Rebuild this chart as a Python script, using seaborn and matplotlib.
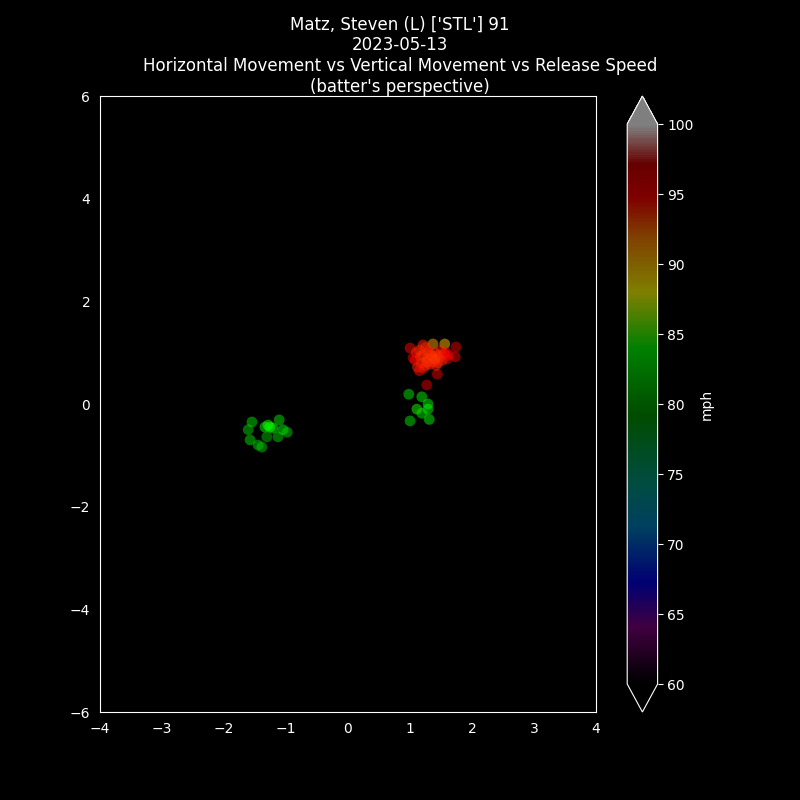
import numpy as np
import pandas as pd
import seaborn as sns
import matplotlib.pyplot as plt
from matplotlib.colors import LinearSegmentedColormap, Normalize
from matplotlib.cm import ScalarMappable

sns.set_style("dark")
plt.style.use("dark_background")

hmov = [1.00,1.21,1.37,1.56,1.74,1.73,1.27,1.44,1.27,1.10,1.15,1.20,1.25,1.30,1.35,1.40,1.45,1.50,1.55,1.60,
        1.08,1.18,1.28,1.38,1.48,1.58,1.12,1.22,1.32,1.42,1.52,1.05,1.15,1.35,1.45,1.62,1.25,1.40,1.17,1.30,
        0.98,1.19,1.29,1.11,1.29,1.19,1.00,1.31,
        -1.55,-1.61,-1.29,-1.11,-1.05,-0.98,-1.58,-1.45,-1.39,-1.31,-1.13,-1.26,-1.34,-1.21]
vmov = [1.09,1.15,1.17,1.17,1.11,0.92,0.82,0.58,0.37,1.00,1.05,0.95,1.10,1.02,0.90,1.00,0.95,1.05,0.98,0.88,
        0.85,0.80,0.88,0.82,0.92,1.00,0.72,0.70,0.78,0.75,0.85,0.90,0.65,0.95,0.80,0.95,0.75,0.88,0.92,0.98,
        0.19,0.14,0.00,-0.10,-0.10,-0.18,-0.33,-0.30,
        -0.35,-0.50,-0.41,-0.31,-0.50,-0.55,-0.70,-0.80,-0.84,-0.64,-0.64,-0.45,-0.45,-0.47]
speed = [94.5,94,91,90,95.5,95,92,95.5,96,94,94,93.5,94,94,93.5,94,94,94,93.5,95,
         95,94,93.5,94,94,95,94,94.5,94,94,94,95,94.5,93.5,94,95,94,93.5,94,94,
         83,83.5,84,84.5,84,83,83,84,
         82.5,82,84.5,83,83.5,82,82.5,82,81.5,81,82,84.5,84,84]
df = pd.DataFrame({"h": hmov, "v": vmov, "mph": speed})

nodes = [(0.0,(0,0,0)),(0.10,(0.5,0,0.5)),(0.18,(0,0,0.9)),(0.28,(0,0.5,0.75)),(0.36,(0,0.6,0.5)),
         (0.48,(0,0.6,0)),(0.60,(0,1,0)),(0.70,(1,1,0)),(0.80,(1,0.5,0)),(0.87,(1,0,0)),
         (0.93,(0.8,0,0)),(1.0,(1,1,1))]
cmap = LinearSegmentedColormap.from_list("speed", nodes)
cmap.set_over((1,1,1)); cmap.set_under((0,0,0))
norm = Normalize(60, 100)

fig = plt.figure(figsize=(8,8), dpi=100, facecolor="black")
ax = fig.add_axes([0.125, 0.11, 0.62, 0.77])
ax.set_facecolor("black")
sns.scatterplot(data=df, x="h", y="v", hue="mph", palette=cmap, hue_norm=norm,
                alpha=0.5, s=60, edgecolor="none", legend=False, ax=ax)
ax.set_xlim(-4,4); ax.set_ylim(-6,6)
ax.set_xlabel(""); ax.set_ylabel("")
ax.grid(False)
for s in ax.spines.values():
    s.set_color("white")
fig.text(0.5, 0.88, "Matz, Steven (L) ['STL'] 91\n2023-05-13\nHorizontal Movement vs Vertical Movement vs Release Speed\n(batter's perspective)",
         color="white", fontsize=12, ha="center", va="bottom", multialignment="center")

cax = fig.add_axes([0.784, 0.11, 0.038, 0.77])
sm = ScalarMappable(norm=norm, cmap=cmap)
cb = fig.colorbar(sm, cax=cax, extend="both", alpha=0.5)
cb.set_label("mph", color="white")
cb.set_ticks([60,65,70,75,80,85,90,95,100])
cb.outline.set_edgecolor("white")
fig.savefig("out.png", dpi=100, facecolor="black")
